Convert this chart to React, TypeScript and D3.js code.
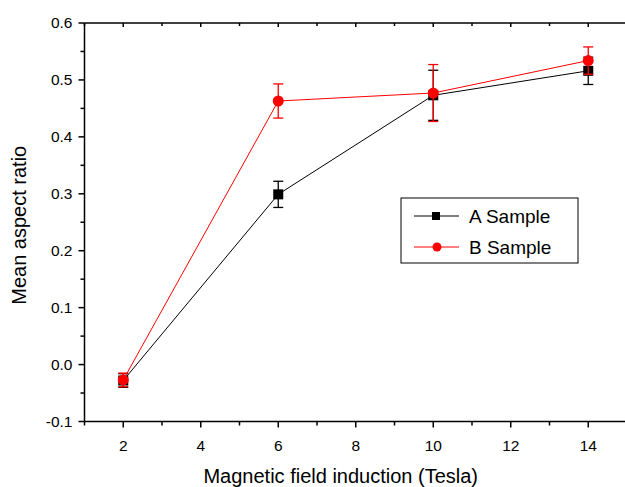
import React from 'react';
import * as d3 from 'd3';

const fields = [2, 6, 10, 14];
const sampleA = [-0.028, 0.299, 0.473, 0.516];
const errA = [0.012, 0.023, 0.044, 0.024];
const sampleB = [-0.027, 0.463, 0.477, 0.534];
const errB = [0.012, 0.030, 0.050, 0.024];
const xTicks = [2, 4, 6, 8, 10, 12, 14];
const yTicks = [-0.1, 0.0, 0.1, 0.2, 0.3, 0.4, 0.5, 0.6];

const W = 625, H = 487;
const left = 84.5, right = 627, top = 23, bottom = 421.5;
const font = 'Liberation Sans, Arial, sans-serif';

export default function App() {
  const x = d3.scaleLinear().domain([1, 15]).range([left, right]);
  const y = d3.scaleLinear().domain([-0.1, 0.6]).range([bottom, top]);
  const line = d3.line<number>().x((_, i) => x(fields[i])).y(d => y(d));

  const xMinor = d3.range(1, 16, 1).filter(v => v % 2 === 1);
  const yMinor = d3.range(-0.05, 0.6, 0.1);

  const series = [
    { name: 'A Sample', vals: sampleA, err: errA, color: '#000000', shape: 'square' },
    { name: 'B Sample', vals: sampleB, err: errB, color: '#ff0000', shape: 'circle' },
  ];

  return (
    <svg width={W} height={H} style={{ position: 'absolute', left: 0, top: 0, background: '#fff' }}>
      {/* frame */}
      <line x1={left} x2={W} y1={top} y2={top} stroke="#000" strokeWidth={1.5} />
      <line x1={left} x2={W} y1={bottom} y2={bottom} stroke="#000" strokeWidth={1.5} />
      <line x1={left} x2={left} y1={top} y2={bottom} stroke="#000" strokeWidth={1.5} />

      {/* x ticks bottom (outward) and top (inward) */}
      {xTicks.map(t => (
        <g key={'xt' + t}>
          <line x1={x(t)} x2={x(t)} y1={bottom} y2={bottom + 6} stroke="#000" strokeWidth={1.5} />
          <line x1={x(t)} x2={x(t)} y1={top} y2={top + 4} stroke="#000" strokeWidth={1.5} />
          <text x={x(t)} y={bottom + 29} textAnchor="middle" fontFamily={font} fontSize={15.5}>{t}</text>
        </g>
      ))}
      {xMinor.map(t => (
        <g key={'xm' + t}>
          <line x1={x(t)} x2={x(t)} y1={bottom} y2={bottom + 4} stroke="#000" strokeWidth={1.5} />
          <line x1={x(t)} x2={x(t)} y1={top} y2={top + 3} stroke="#000" strokeWidth={1.5} />
        </g>
      ))}

      {/* y ticks */}
      {yTicks.map(t => (
        <g key={'yt' + t}>
          <line x1={left - 6} x2={left} y1={y(t)} y2={y(t)} stroke="#000" strokeWidth={1.5} />
          <text x={left - 12} y={y(t) + 5} textAnchor="end" fontFamily={font} fontSize={15.5}>{t.toFixed(1)}</text>
        </g>
      ))}
      {yMinor.map(t => (
        <line key={'ym' + t} x1={left - 4} x2={left} y1={y(t)} y2={y(t)} stroke="#000" strokeWidth={1.5} />
      ))}

      {/* axis titles */}
      <text x={(left + right) / 2 - 15} y={H - 4} textAnchor="middle" fontFamily={font} fontSize={20}>
        Magnetic field induction (Tesla)
      </text>
      <text transform={`translate(26,${(top + bottom) / 2 + 3}) rotate(-90)`} textAnchor="middle" fontFamily={font} fontSize={20}>
        Mean aspect ratio
      </text>

      {/* series */}
      {series.map(s => (
        <g key={s.name}>
          <path d={line(s.vals) || ''} fill="none" stroke={s.color} strokeWidth={1} />
          {s.vals.map((v, i) => {
            const cx = x(fields[i]);
            const y1 = y(v + s.err[i]);
            const y2 = y(v - s.err[i]);
            return (
              <g key={i}>
                <line x1={cx} x2={cx} y1={y1} y2={y2} stroke={s.color} strokeWidth={1.3} />
                <line x1={cx - 5} x2={cx + 5} y1={y1} y2={y1} stroke={s.color} strokeWidth={1.3} />
                <line x1={cx - 5} x2={cx + 5} y1={y2} y2={y2} stroke={s.color} strokeWidth={1.3} />
                {s.shape === 'square'
                  ? <rect x={cx - 5} y={y(v) - 5} width={10} height={10} fill={s.color} />
                  : <circle cx={cx} cy={y(v)} r={5.5} fill={s.color} />}
              </g>
            );
          })}
        </g>
      ))}

      {/* legend */}
      <rect x={401} y={198} width={177} height={65} fill="#fff" stroke="#000" strokeWidth={1} />
      {series.map((s, i) => {
        const ly = 216 + i * 31;
        return (
          <g key={'lg' + s.name}>
            <line x1={414} x2={459} y1={ly} y2={ly} stroke={s.color} strokeWidth={1} />
            {s.shape === 'square'
              ? <rect x={432} y={ly - 4} width={8} height={8} fill={s.color} />
              : <circle cx={437} cy={ly} r={4.5} fill={s.color} />}
            <text x={469} y={ly + 7} fontFamily={font} fontSize={19}>{s.name}</text>
          </g>
        );
      })}
    </svg>
  );
}
